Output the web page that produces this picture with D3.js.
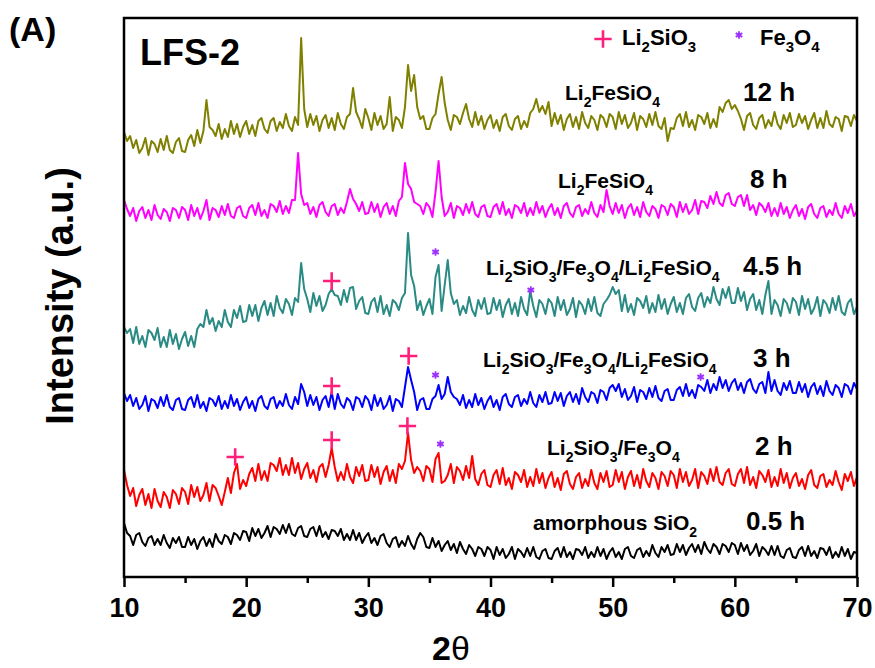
<!DOCTYPE html>
<html>
<head>
<meta charset="utf-8">
<script src="https://cdn.jsdelivr.net/npm/d3@7"></script>
<style>
body { margin: 0; background: #fff; }
text { font-family: "Liberation Sans", Arial, sans-serif; }
</style>
</head>
<body>
<svg id="canvas" width="875" height="668"></svg>
<script>
/************* Data **************/
// XRD scans, 2-theta from 10 to 70 deg, step 0.25 deg, intensity in a.u. (stacked)
var twoThetaStart = 10;
var twoThetaStep = 0.25;

var int_0_5h = [
  54, 44, 41, 32, 42, 44, 35, 31, 39, 41, 32, 38, 32, 42, 34, 29, 39, 34, 40, 30,
  30, 40, 32, 38, 28, 36, 40, 31, 38, 30, 43, 36, 33, 42, 40, 33, 44, 42, 37, 46,
  45, 36, 49, 41, 48, 39, 44, 51, 40, 50, 48, 43, 52, 44, 53, 43, 41, 49, 51, 41,
  40, 48, 50, 41, 51, 40, 45, 38, 47, 46, 41, 48, 37, 43, 37, 47, 37, 44, 34, 40,
  44, 34, 39, 32, 41, 43, 34, 30, 38, 40, 30, 36, 31, 41, 33, 28, 38, 44, 40, 30,
  29, 39, 30, 36, 26, 32, 36, 27, 33, 24, 35, 28, 23, 32, 28, 21, 30, 28, 21, 30,
  27, 18, 30, 22, 28, 19, 23, 30, 18, 28, 25, 20, 29, 21, 30, 20, 18, 26, 28, 19,
  18, 26, 29, 20, 30, 20, 25, 18, 28, 27, 22, 30, 19, 25, 20, 30, 21, 28, 18, 25,
  29, 20, 25, 18, 28, 30, 21, 19, 27, 29, 20, 26, 21, 32, 24, 20, 30, 25, 32, 22,
  23, 33, 25, 32, 22, 29, 33, 25, 32, 23, 35, 28, 24, 33, 30, 23, 33, 31, 25, 34,
  32, 23, 34, 26, 32, 22, 26, 33, 21, 30, 27, 22, 31, 22, 31, 21, 19, 27, 29, 20,
  19, 27, 30, 21, 31, 21, 26, 19, 29, 28, 22, 30, 19, 25, 20, 30, 21, 28, 18, 25,
  24
];

var int_2h = [
  107, 92, 81, 89, 71, 82, 88, 72, 83, 69, 88, 76, 70, 85, 80, 69, 87, 83, 73, 89,
  85, 73, 92, 80, 90, 76, 82, 94, 76, 92, 89, 81, 72, 85, 99, 84, 104, 113, 88, 97,
  91, 103, 109, 96, 113, 97, 106, 96, 114, 112, 106, 119, 102, 112, 102, 119, 104, 114, 98, 108,
  114, 99, 107, 95, 110, 113, 100, 112, 129, 110, 96, 105, 97, 113, 100, 94, 110, 101, 112, 96,
  97, 112, 100, 110, 93, 105, 111, 96, 107, 94, 113, 108, 116, 144, 117, 104, 110, 106, 96, 111,
  108, 95, 118, 124, 94, 96, 102, 113, 94, 110, 106, 97, 111, 99, 121, 98, 92, 103, 107, 92,
  90, 102, 107, 93, 109, 92, 99, 88, 105, 102, 95, 107, 90, 100, 91, 108, 94, 104, 89, 99,
  105, 90, 99, 87, 103, 106, 93, 88, 100, 104, 89, 98, 91, 107, 94, 88, 104, 95, 106, 90,
  92, 107, 95, 105, 88, 100, 106, 91, 102, 89, 108, 96, 90, 104, 99, 88, 105, 101, 91, 106,
  102, 89, 108, 95, 105, 91, 97, 108, 89, 105, 101, 93, 108, 96, 110, 95, 92, 104, 108, 93,
  91, 103, 108, 94, 110, 92, 100, 89, 106, 102, 95, 107, 90, 100, 91, 108, 94, 104, 89, 99,
  104, 91, 98, 88, 102, 107, 92, 89, 101, 103, 90, 97, 92, 106, 95, 87, 103, 96, 105, 91,
  100
];

var int_3h = [
  184, 176, 182, 171, 179, 168, 172, 181, 166, 178, 176, 169, 180, 171, 182, 170, 167, 177, 179, 168,
  167, 177, 180, 170, 182, 169, 175, 166, 179, 177, 171, 181, 168, 176, 169, 182, 171, 178, 167, 175,
  180, 169, 176, 166, 178, 181, 171, 168, 178, 180, 169, 176, 171, 183, 172, 168, 180, 173, 193, 185,
  171, 182, 172, 180, 167, 177, 181, 170, 185, 168, 183, 173, 169, 179, 176, 167, 180, 178, 170, 181,
  177, 167, 182, 171, 179, 168, 172, 181, 166, 178, 176, 170, 190, 210, 197, 185, 167, 177, 179, 168,
  168, 178, 181, 192, 178, 183, 200, 185, 180, 178, 172, 182, 169, 177, 170, 183, 172, 179, 168, 176,
  181, 170, 177, 167, 180, 183, 173, 170, 180, 182, 171, 178, 173, 185, 174, 170, 182, 175, 185, 173,
  174, 185, 176, 184, 171, 181, 185, 175, 183, 173, 189, 180, 175, 185, 183, 174, 187, 185, 177, 189,
  192, 186, 193, 180, 188, 177, 181, 190, 175, 187, 185, 178, 189, 180, 191, 179, 176, 186, 188, 177,
  177, 187, 190, 181, 193, 181, 187, 179, 192, 190, 186, 197, 184, 193, 187, 200, 189, 197, 186, 194,
  198, 187, 194, 184, 195, 198, 188, 184, 193, 195, 184, 205, 186, 197, 186, 182, 194, 187, 196, 184,
  184, 195, 185, 193, 180, 190, 194, 183, 191, 181, 196, 186, 182, 192, 189, 180, 193, 191, 183, 194,
  188
];

var int_4_5h = [
  250, 244, 248, 234, 250, 233, 241, 230, 247, 244, 237, 249, 230, 240, 230, 247, 233, 243, 228, 238,
  245, 231, 241, 230, 248, 253, 250, 267, 253, 259, 246, 256, 250, 267, 255, 250, 267, 259, 271, 255,
  256, 272, 261, 272, 256, 269, 276, 262, 274, 261, 281, 269, 264, 278, 273, 262, 279, 275, 314, 288,
  278, 265, 284, 271, 281, 266, 272, 283, 288, 282, 281, 272, 287, 275, 289, 290, 268, 276, 280, 264,
  263, 275, 279, 265, 281, 263, 272, 261, 277, 274, 267, 279, 284, 344, 302, 291, 267, 276, 262, 271,
  278, 263, 300, 312, 266, 292, 317, 284, 273, 277, 262, 271, 264, 280, 267, 261, 277, 268, 279, 263,
  264, 279, 267, 277, 260, 272, 278, 263, 274, 261, 280, 268, 262, 286, 271, 260, 277, 273, 263, 278,
  274, 261, 280, 267, 277, 262, 268, 279, 260, 276, 272, 263, 278, 266, 280, 264, 261, 273, 277, 282,
  290, 283, 287, 266, 282, 265, 273, 262, 279, 276, 269, 281, 264, 274, 265, 282, 268, 278, 263, 273,
  280, 265, 274, 263, 279, 283, 270, 266, 279, 284, 270, 280, 274, 290, 278, 272, 288, 279, 290, 274,
  274, 289, 276, 285, 267, 278, 283, 267, 277, 263, 282, 296, 263, 277, 272, 261, 278, 274, 264, 279,
  275, 262, 281, 268, 278, 263, 269, 280, 261, 277, 273, 264, 279, 267, 281, 265, 262, 274, 278, 263,
  270
];

var int_8h = [
  377, 368, 361, 369, 356, 366, 370, 359, 367, 357, 372, 362, 358, 368, 365, 356, 369, 367, 359, 370,
  367, 357, 372, 361, 369, 358, 366, 377, 357, 369, 367, 360, 371, 362, 373, 361, 359, 369, 371, 361,
  359, 369, 372, 362, 374, 361, 367, 359, 373, 371, 365, 376, 363, 371, 364, 377, 377, 424, 383, 372,
  374, 363, 370, 360, 372, 375, 365, 361, 371, 373, 362, 369, 364, 375, 388, 378, 373, 366, 375, 363,
  364, 375, 365, 373, 360, 370, 374, 363, 371, 361, 376, 380, 414, 393, 388, 375, 373, 371, 363, 374,
  370, 360, 385, 416, 380, 361, 365, 374, 359, 371, 369, 362, 373, 364, 375, 363, 360, 370, 372, 361,
  360, 370, 373, 363, 375, 362, 368, 359, 372, 370, 364, 374, 361, 369, 362, 375, 364, 371, 360, 368,
  373, 362, 369, 359, 371, 374, 364, 360, 370, 372, 361, 368, 363, 375, 364, 360, 372, 365, 387, 371,
  363, 374, 364, 372, 359, 369, 373, 362, 370, 360, 375, 365, 361, 371, 368, 359, 372, 370, 362, 373,
  370, 360, 375, 365, 373, 363, 367, 377, 363, 376, 375, 369, 381, 373, 385, 374, 371, 382, 384, 373,
  371, 380, 382, 371, 382, 367, 372, 362, 374, 371, 365, 374, 361, 369, 361, 374, 363, 370, 359, 367,
  372, 361, 368, 358, 370, 373, 363, 359, 369, 371, 360, 367, 362, 374, 363, 359, 371, 364, 373, 361,
  366
];

var int_12h = [
  445, 436, 441, 429, 437, 424, 429, 439, 422, 436, 433, 425, 438, 427, 441, 427, 424, 435, 439, 426,
  425, 437, 442, 431, 447, 434, 446, 477, 450, 447, 441, 453, 438, 448, 440, 456, 443, 453, 440, 450,
  456, 443, 452, 441, 456, 459, 448, 444, 456, 459, 446, 455, 449, 463, 451, 446, 460, 452, 539, 468,
  450, 463, 452, 461, 446, 457, 462, 449, 459, 447, 464, 453, 448, 460, 463, 489, 465, 458, 449, 468,
  459, 447, 464, 452, 461, 448, 453, 480, 446, 460, 457, 449, 470, 512, 486, 502, 470, 458, 461, 448,
  448, 459, 463, 483, 500, 474, 457, 447, 462, 460, 453, 464, 473, 458, 450, 465, 452, 461, 448, 457,
  462, 449, 457, 446, 460, 463, 451, 447, 458, 461, 448, 456, 450, 464, 468, 478, 465, 471, 463, 475,
  451, 464, 453, 462, 447, 458, 463, 450, 460, 448, 465, 454, 449, 461, 457, 447, 462, 459, 450, 463,
  460, 448, 465, 453, 462, 449, 454, 464, 447, 461, 458, 450, 463, 452, 465, 451, 448, 459, 436, 449,
  448, 459, 463, 451, 465, 450, 457, 447, 462, 460, 453, 464, 449, 458, 450, 470, 465, 474, 477, 468,
  472, 466, 458, 447, 461, 464, 452, 448, 459, 462, 449, 457, 451, 465, 453, 448, 462, 454, 464, 450,
  452, 463, 454, 461, 448, 457, 464, 449, 459, 449, 466, 453, 450, 460, 458, 446, 461, 460, 451, 462,
  456
];

var seriesData = [int_0_5h, int_2h, int_3h, int_4_5h, int_8h, int_12h];
var seriesTimes = ["0.5 h", "2 h", "3 h", "4.5 h", "8 h", "12 h"];
var seriesPhases = ["amorphous SiO_2", "Li_2SiO_3/Fe_3O_4", "Li_2SiO_3/Fe_3O_4/Li_2FeSiO_4",
                    "Li_2SiO_3/Fe_3O_4/Li_2FeSiO_4", "Li_2FeSiO_4", "Li_2FeSiO_4"];
var seriesColors = ["#000000", "#ff0000", "#0000ff", "#2a8a84", "#ff00ff", "#808000"];

// Reflection markers: [2theta, intensity]
var li2sio3Marks = [[19.1, 120], [27.0, 137], [33.2, 151], [27.0, 191], [33.3, 221], [27.0, 296]];
var fe3o4Marks = [[35.9, 133], [35.5, 202], [57.2, 200], [35.5, 325], [43.3, 287]];

var xTicksMajor = [10, 20, 30, 40, 50, 60, 70];
var xTicksMinor = [15, 25, 35, 45, 55, 65];

seriesData.forEach(function(s, k) {
    if (s.length != 241) throw new Error("series " + k + " has " + s.length + " points");
});


/********** Initialisation *********/
var svg = d3.select("#canvas");
var plotLeft = 124, plotRight = 857, plotTop = 18, plotBottom = 577;

var x = d3.scaleLinear().domain([10, 70]).range([plotLeft, plotRight]);
var y = d3.scaleLinear().domain([0, 559]).range([plotBottom, plotTop]);

// write "Li_2SiO_3" with subscripts
function chemText(sel, str, subSize)
{
    var parts = str.split(/(_\d)/);
    var down = false;
    parts.forEach(function(p) {
        if (p === "") return;
        if (p[0] === "_") {
            sel.append("tspan").attr("dy", 7).attr("font-size", subSize).text(p.slice(1));
            down = true;
        } else {
            sel.append("tspan").attr("dy", down ? -7 : 0).text(p);
            down = false;
        }
    });
}


/*********** Traces *************/
var line = d3.line()
    .x(function(d, i) { return x(twoThetaStart + i * twoThetaStep); })
    .y(function(d) { return y(d); });

svg.append("g")
    .selectAll("path")
    .data(seriesData)
    .enter()
    .append("path")
    .attr("d", line)
    .attr("fill", "none")
    .attr("stroke", function(d, i) { return seriesColors[i]; })
    .attr("stroke-width", 2)
    .attr("stroke-linejoin", "round");


/*********** Markers *************/
var plusSym = d3.symbol().type(d3.symbolPlus).size(100);
var starSym = d3.symbol().type(d3.symbolAsterisk).size(40);

svg.append("g")
    .selectAll("path")
    .data(li2sio3Marks)
    .enter()
    .append("path")
    .attr("d", plusSym)
    .attr("transform", function(d) { return "translate(" + x(d[0]) + "," + y(d[1]) + ")"; })
    .attr("fill", "none")
    .attr("stroke", "#ff1f7a")
    .attr("stroke-width", 2.6);

svg.append("g")
    .selectAll("path")
    .data(fe3o4Marks)
    .enter()
    .append("path")
    .attr("d", starSym)
    .attr("transform", function(d) { return "translate(" + x(d[0]) + "," + y(d[1]) + ")"; })
    .attr("fill", "none")
    .attr("stroke", "#9b30ff")
    .attr("stroke-width", 1.8);


/*********** Labels *************/
var phasePos = [[533, 530], [547, 455], [483, 367], [486, 275], [558, 188], [565, 100]];
var timePos = [[746, 530], [755, 455], [753, 367], [743, 275], [750, 188], [743, 101]];

seriesPhases.forEach(function(p, i) {
    var t = svg.append("text")
        .attr("x", phasePos[i][0])
        .attr("y", phasePos[i][1])
        .attr("font-size", 21)
        .attr("font-weight", "bold");
    chemText(t, p, 14);
});

svg.append("g")
    .selectAll("text")
    .data(seriesTimes)
    .enter()
    .append("text")
    .attr("x", function(d, i) { return timePos[i][0]; })
    .attr("y", function(d, i) { return timePos[i][1]; })
    .attr("font-size", 26)
    .attr("font-weight", "bold")
    .text(function(d) { return d; });

// legend
svg.append("path").attr("d", plusSym)
    .attr("transform", "translate(603,39)")
    .attr("fill", "none").attr("stroke", "#ff1f7a").attr("stroke-width", 2.6);
chemText(svg.append("text").attr("x", 622).attr("y", 45)
    .attr("font-size", 22).attr("font-weight", "bold"), "Li_2SiO_3", 15);
svg.append("path").attr("d", starSym)
    .attr("transform", "translate(739,35)")
    .attr("fill", "none").attr("stroke", "#9b30ff").attr("stroke-width", 1.8);
chemText(svg.append("text").attr("x", 760).attr("y", 45)
    .attr("font-size", 22).attr("font-weight", "bold"), "Fe_3O_4", 15);

svg.append("text").attr("x", 140).attr("y", 65)
    .attr("font-size", 36).attr("font-weight", "bold").text("LFS-2");
svg.append("text").attr("x", 9).attr("y", 41)
    .attr("font-size", 34).attr("font-weight", "bold").text("(A)");


/*********** Axes *************/
svg.append("rect")
    .attr("x", plotLeft).attr("y", plotTop)
    .attr("width", plotRight - plotLeft).attr("height", plotBottom - plotTop)
    .attr("fill", "none").attr("stroke", "#000").attr("stroke-width", 2.5);

var xAxis = svg.append("g")
    .attr("transform", "translate(0," + plotBottom + ")")
    .call(d3.axisBottom(x).tickValues(xTicksMajor).tickSize(10).tickPadding(11).tickSizeOuter(0));
xAxis.select(".domain").remove();
xAxis.selectAll("line").attr("stroke-width", 2.5);
xAxis.selectAll("text")
    .attr("font-family", "Liberation Sans, Arial, sans-serif")
    .attr("font-size", 27).attr("font-weight", "bold").attr("fill", "#000");

var xMinor = svg.append("g")
    .attr("transform", "translate(0," + plotBottom + ")")
    .call(d3.axisBottom(x).tickValues(xTicksMinor).tickSize(6).tickFormat("").tickSizeOuter(0));
xMinor.select(".domain").remove();
xMinor.selectAll("line").attr("stroke-width", 2.5);

var xTitle = svg.append("text").attr("x", 432).attr("y", 660)
    .attr("font-size", 34).attr("font-weight", "bold");
xTitle.append("tspan").text("2");
xTitle.append("tspan").attr("font-weight", "normal").text("\u03b8");

svg.append("text")
    .attr("transform", "translate(73,296) rotate(-90)")
    .attr("text-anchor", "middle")
    .attr("font-size", 38).attr("font-weight", "bold")
    .text("Intensity (a.u.)");
</script>
</body>
</html>
